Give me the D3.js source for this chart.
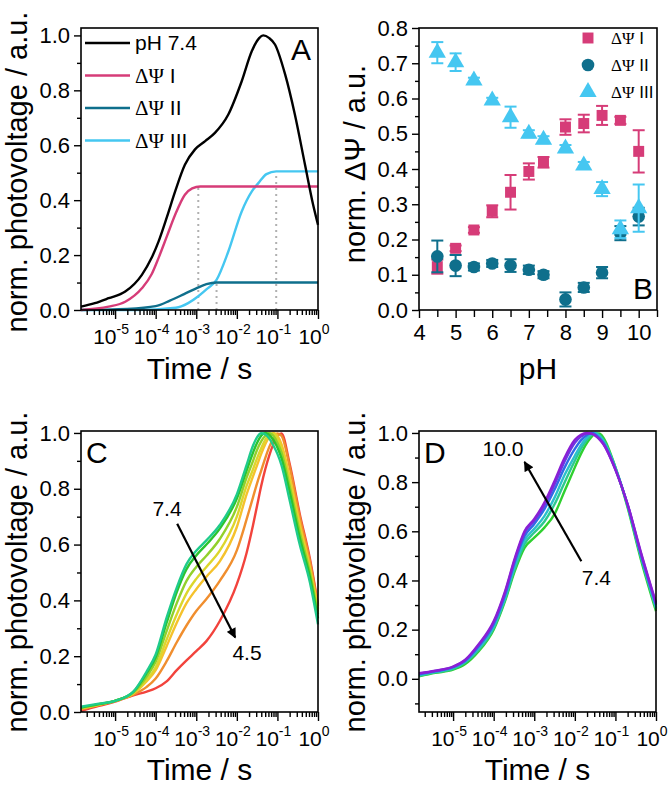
<!DOCTYPE html>
<html lang="en">
<head>
<meta charset="UTF-8">
<title>Photovoltage vs pH</title>
<script src="https://cdn.jsdelivr.net/npm/d3@7"></script>
<style>
  body { margin: 0; background: #fff; }
  svg text { font-family: "Liberation Sans", Arial, Helvetica, sans-serif; fill: #000; }
  .frame { fill: none; stroke: #000; stroke-width: 1.6px; }
  .tick line { stroke: #000; stroke-width: 1.4px; }
</style>
</head>
<body>
<svg id="fig" width="672" height="786"></svg>
<script>
// ---------- panel A : pH 7.4 trace and its three components (time as log10 s) ----------
var logtA_trace = [-5.84, -5.5, -5.16, -4.75, -4.34, -4.1, -3.93, -3.72, -3.52, -3.28, -3.03, -2.78, -2.54, -2.21, -1.88, -1.63, -1.45, -1.35, -1.2, -1.06, -0.81, -0.57, -0.32, -0.12, 0];
var trace74     = [0.012, 0.025, 0.043, 0.067, 0.128, 0.19, 0.249, 0.34, 0.432, 0.529, 0.585, 0.615, 0.645, 0.712, 0.833, 0.943, 0.99, 1.0, 0.99, 0.967, 0.858, 0.712, 0.529, 0.383, 0.31];
var logtA_I  = [-5.84, -5.16, -4.75, -4.34, -4.1, -3.93, -3.72, -3.52, -3.28, -3.1, -2.9, 0];
var psiI     = [0.0, 0.012, 0.03, 0.079, 0.13, 0.189, 0.27, 0.347, 0.42, 0.443, 0.45, 0.45];
var logtA_II = [-5.84, -4.7, -4.0, -3.65, -3.3, -3.0, -2.75, -2.5, 0];
var psiII    = [0.0, 0.004, 0.014, 0.034, 0.058, 0.079, 0.094, 0.1, 0.1];
var logtA_III = [-5.84, -4.5, -3.5, -3.2, -2.95, -2.75, -2.5, -2.21, -1.88, -1.63, -1.47, -1.27, -1.03, 0];
var psiIII    = [0.0, 0.0, 0.008, 0.025, 0.05, 0.075, 0.11, 0.213, 0.359, 0.432, 0.462, 0.495, 0.505, 0.505];
var guideLogT = [-2.95, -2.5, -1.03];   // dotted markers of the three time constants
var guideTop  = [0.45, 0.1, 0.505];

// ---------- panel B : amplitudes vs pH ----------
var pHB      = [4.5, 5, 5.5, 6, 6.5, 7, 7.4, 8, 8.5, 9, 9.5, 10];
var ampI     = [0.123, 0.175, 0.227, 0.28, 0.334, 0.393, 0.419, 0.519, 0.529, 0.552, 0.538, 0.45];
var ampIErr  = [0.02, 0.008, 0.008, 0.017, 0.049, 0.023, 0.015, 0.022, 0.025, 0.027, 0.01, 0.06];
var ampII    = [0.152, 0.126, 0.122, 0.132, 0.126, 0.114, 0.1, 0.03, 0.064, 0.106, 0.218, 0.265];
var ampIIErr = [0.045, 0.03, 0.01, 0.01, 0.018, 0.012, 0.01, 0.02, 0.013, 0.016, 0.02, 0.025];
var ampIII   = [0.73, 0.703, 0.651, 0.594, 0.547, 0.5, 0.483, 0.458, 0.41, 0.343, 0.229, 0.289];
var ampIIIErr= [0.03, 0.025, 0.008, 0.008, 0.03, 0.01, 0.01, 0.01, 0.01, 0.02, 0.025, 0.067];

// ---------- panel C : acidic traces, pH 7.4 -> 4.5 ----------
var logtC = [-5.84, -5.4, -5.0, -4.55, -4.22, -4.0, -3.73, -3.48, -3.24, -3.0, -2.75, -2.42, -2.0, -1.76, -1.6, -1.5, -1.4, -1.3, -1.2, -1.1, -1.0, -0.9, -0.7, -0.45, -0.2, 0];
var c74 = [0.019, 0.03, 0.04, 0.073, 0.146, 0.206, 0.338, 0.446, 0.53, 0.578, 0.615, 0.67, 0.78, 0.885, 0.955, 0.985, 0.999, 0.995, 0.98, 0.955, 0.925, 0.885, 0.76, 0.6, 0.465, 0.314];
var c70 = [0.016, 0.028, 0.04, 0.072, 0.14, 0.196, 0.32, 0.43, 0.512, 0.561, 0.6, 0.657, 0.765, 0.865, 0.93, 0.965, 0.99, 1.0, 0.993, 0.975, 0.948, 0.91, 0.79, 0.625, 0.485, 0.335];
var c65 = [0.015, 0.028, 0.04, 0.07, 0.127, 0.18, 0.29, 0.39, 0.47, 0.52, 0.56, 0.62, 0.735, 0.84, 0.9, 0.94, 0.97, 0.99, 1.0, 0.99, 0.965, 0.93, 0.81, 0.645, 0.5, 0.35];
var c60 = [0.014, 0.027, 0.04, 0.068, 0.115, 0.16, 0.26, 0.35, 0.425, 0.477, 0.52, 0.578, 0.7, 0.81, 0.87, 0.91, 0.945, 0.975, 0.995, 0.997, 0.98, 0.945, 0.83, 0.66, 0.51, 0.36];
var c55 = [0.013, 0.026, 0.04, 0.066, 0.11, 0.15, 0.236, 0.32, 0.39, 0.44, 0.485, 0.54, 0.663, 0.78, 0.845, 0.885, 0.925, 0.96, 0.985, 1.0, 0.99, 0.96, 0.845, 0.675, 0.52, 0.37];
var c50 = [0.01, 0.025, 0.04, 0.062, 0.09, 0.12, 0.182, 0.25, 0.31, 0.362, 0.405, 0.47, 0.579, 0.69, 0.77, 0.82, 0.865, 0.91, 0.95, 0.98, 0.998, 0.99, 0.88, 0.7, 0.54, 0.38];
var c45 = [0.004, 0.022, 0.037, 0.06, 0.073, 0.085, 0.11, 0.15, 0.185, 0.218, 0.254, 0.326, 0.458, 0.57, 0.67, 0.74, 0.81, 0.87, 0.92, 0.96, 0.99, 0.998, 0.89, 0.71, 0.55, 0.385];
var colorsC = ["#f2433c", "#f08e2e", "#f5c22c", "#dcd62c", "#92d02c", "#2cc42e", "#1fcb8c"];

// ---------- panel D : alkaline traces, pH 7.4 -> 10.0 ----------
var logtD = [-5.84, -5.44, -5.0, -4.7, -4.38, -4.0, -3.72, -3.48, -3.24, -3.0, -2.75, -2.5, -2.25, -2.0, -1.85, -1.7, -1.6, -1.5, -1.4, -1.3, -1.0, -0.7, -0.38, 0];
var d74  = [0.01, 0.024, 0.037, 0.06, 0.11, 0.2, 0.316, 0.438, 0.533, 0.574, 0.615, 0.67, 0.765, 0.86, 0.915, 0.96, 0.982, 0.997, 0.998, 0.982, 0.86, 0.697, 0.49, 0.275];
var d80  = [0.012, 0.026, 0.04, 0.066, 0.116, 0.206, 0.322, 0.448, 0.548, 0.595, 0.64, 0.71, 0.8, 0.887, 0.935, 0.972, 0.99, 1.0, 0.992, 0.973, 0.86, 0.703, 0.5, 0.285];
var d85  = [0.015, 0.028, 0.044, 0.07, 0.122, 0.213, 0.33, 0.46, 0.563, 0.61, 0.662, 0.737, 0.83, 0.907, 0.95, 0.982, 0.995, 0.999, 0.988, 0.968, 0.857, 0.705, 0.505, 0.29];
var d90  = [0.018, 0.03, 0.047, 0.073, 0.13, 0.222, 0.34, 0.475, 0.58, 0.63, 0.69, 0.77, 0.86, 0.935, 0.97, 0.992, 1.0, 0.995, 0.98, 0.96, 0.853, 0.708, 0.51, 0.3];
var d95  = [0.021, 0.032, 0.049, 0.076, 0.135, 0.229, 0.35, 0.485, 0.593, 0.643, 0.705, 0.79, 0.885, 0.96, 0.985, 0.998, 0.998, 0.99, 0.977, 0.957, 0.852, 0.71, 0.515, 0.305];
var d100 = [0.023, 0.033, 0.05, 0.078, 0.139, 0.234, 0.356, 0.49, 0.6, 0.65, 0.717, 0.805, 0.9, 0.972, 0.993, 1.0, 0.997, 0.99, 0.975, 0.955, 0.85, 0.71, 0.52, 0.31];
var colorsD = ["#2fd02f", "#2cc98f", "#2cbfcc", "#2f6ce6", "#6a3ae2", "#8a1fd4"];

var cPink = "#d63c78", cTeal = "#0f6f8c", cSky = "#45c7f1";

var svg = d3.select("#fig");
var xDomain = [Math.pow(10, -5.84), 1];

function line(x, y) {
  return d3.line().x(function(d) { return x(Math.pow(10, d[0])); }).y(function(d) { return y(d[1]); }).curve(d3.curveMonotoneX);
}
function pairs(ts, vs) { return ts.map(function(t, i) { return [t, vs[i]]; }); }

function logXAxis(g, x, h) {
  var minor = [];
  for (var e = -6; e < 0; e++) for (var k = 2; k < 10; k++) {
    var v = k * Math.pow(10, e);
    if (v >= xDomain[0] && v <= 1) minor.push(v);
  }
  g.append("g").attr("transform", "translate(0," + h + ")")
    .call(d3.axisBottom(x).tickValues(minor).tickSize(5).tickFormat(""))
    .call(function(s) { s.select(".domain").remove(); });
  var majors = [-5, -4, -3, -2, -1, 0];
  var ax = g.append("g").attr("transform", "translate(0," + h + ")")
    .call(d3.axisBottom(x).tickValues(majors.map(function(e) { return Math.pow(10, e); })).tickSize(9).tickFormat(""));
  ax.select(".domain").remove();
  majors.forEach(function(e) {
    var t = g.append("text").attr("x", x(Math.pow(10, e)) - 4).attr("y", h + 34)
      .attr("text-anchor", "middle").style("font-size", "21px").text("10");
    t.append("tspan").attr("dy", -10).style("font-size", "14px").text(e);
  });
}

function yAxis(g, y, majors, minors, fmt) {
  g.append("g").call(d3.axisLeft(y).tickValues(minors).tickSize(4).tickFormat(""))
    .call(function(s) { s.select(".domain").remove(); });
  g.append("g").call(d3.axisLeft(y).tickValues(majors).tickSize(7).tickFormat(fmt).tickPadding(4))
    .call(function(s) { s.select(".domain").remove(); s.selectAll("text").style("font-size", "22px"); });
}

function frame(g, w, h) {
  g.append("rect").attr("class", "frame").attr("width", w).attr("height", h);
}

function yTitle(g, h, txt, cy) {
  g.append("text").attr("transform", "translate(-54," + cy + ") rotate(-90)")
    .attr("text-anchor", "middle").style("font-size", "29px").text(txt);
}

// ================= panel A =================
(function() {
  var L = 81, T = 28, W = 237, H = 282;
  var g = svg.append("g").attr("transform", "translate(" + L + "," + T + ")");
  var x = d3.scaleLog().domain(xDomain).range([0, W]);
  var y = d3.scaleLinear().domain([0, 1.027]).range([H, 0]);

  g.selectAll("line.guide").data(guideLogT).enter().append("line")
    .attr("x1", function(d) { return x(Math.pow(10, d)); }).attr("x2", function(d) { return x(Math.pow(10, d)); })
    .attr("y1", y(0)).attr("y2", function(d, i) { return y(guideTop[i]); })
    .attr("stroke", "#b0b0b0").attr("stroke-width", 2).attr("stroke-dasharray", "2,4");

  var curves = [[logtA_III, psiIII, cSky], [logtA_II, psiII, cTeal], [logtA_I, psiI, cPink], [logtA_trace, trace74, "#000"]];
  curves.forEach(function(c) {
    g.append("path").datum(pairs(c[0], c[1])).attr("d", line(x, y))
      .attr("fill", "none").attr("stroke", c[2]).attr("stroke-width", 2.4);
  });

  var leg = [["pH 7.4", "#000", ""], ["", cPink, " I"], ["", cTeal, " II"], ["", cSky, " III"]];
  leg.forEach(function(l, i) {
    var ly = 15 + i * 32.5;
    g.append("line").attr("x1", 4).attr("x2", 49).attr("y1", ly).attr("y2", ly)
      .attr("stroke", l[1]).attr("stroke-width", 2.6);
    var t = g.append("text").attr("x", 54).attr("y", ly).attr("dy", "0.35em").style("font-size", "21px");
    if (l[0]) t.text(l[0]);
    else {
      t.append("tspan").style("font-family", "'Liberation Serif', serif").text("ΔΨ");
      t.append("tspan").text(l[2]);
    }
  });
  g.append("text").attr("x", W - 7).attr("y", 32).attr("text-anchor", "end").style("font-size", "30px").text("A");

  logXAxis(g, x, H);
  yAxis(g, y, [0, 0.2, 0.4, 0.6, 0.8, 1.0], [0.1, 0.3, 0.5, 0.7, 0.9], d3.format(".1f"));
  frame(g, W, H);
  yTitle(g, H, "norm. photovoltage / a.u.", 144);
  g.append("text").attr("x", W / 2).attr("y", H + 69).attr("text-anchor", "middle").style("font-size", "30px").text("Time / s");
})();

// ================= panel B =================
(function() {
  var L = 419, T = 28, W = 238, H = 282;
  var g = svg.append("g").attr("transform", "translate(" + L + "," + T + ")");
  var x = d3.scaleLinear().domain([4, 10.5]).range([0, W]);
  var y = d3.scaleLinear().domain([0, 0.8]).range([H, 0]);

  var series = [[ampI, ampIErr, cPink, d3.symbolSquare, 120], [ampII, ampIIErr, cTeal, d3.symbolCircle, 125], [ampIII, ampIIIErr, cSky, d3.symbolTriangle, 130]];
  series.forEach(function(s) {
    var eg = g.append("g").attr("stroke", s[2]).attr("stroke-width", 2);
    pHB.forEach(function(p, i) {
      var cx = x(p), lo = y(s[0][i] - s[1][i]), hi = y(s[0][i] + s[1][i]);
      eg.append("line").attr("x1", cx).attr("x2", cx).attr("y1", lo).attr("y2", hi);
      eg.append("line").attr("x1", cx - 6).attr("x2", cx + 6).attr("y1", lo).attr("y2", lo);
      eg.append("line").attr("x1", cx - 6).attr("x2", cx + 6).attr("y1", hi).attr("y2", hi);
    });
    g.append("g").selectAll("path").data(pHB).enter().append("path")
      .attr("d", d3.symbol().type(s[3]).size(s[4]))
      .attr("transform", function(p, i) { return "translate(" + x(p) + "," + y(s[0][i]) + ")"; })
      .attr("fill", s[2]);
  });

  ["I", "II", "III"].forEach(function(n, i) {
    var s = series[i], ly = 10 + i * 27;
    g.append("path").attr("d", d3.symbol().type(s[3]).size(s[4]))
      .attr("transform", "translate(169," + ly + ")").attr("fill", s[2]);
    var t = g.append("text").attr("x", 192).attr("y", ly).attr("dy", "0.35em").style("font-size", "17px");
    t.append("tspan").style("font-family", "'Liberation Serif', serif").text("ΔΨ");
    t.append("tspan").text(" " + n);
  });
  g.append("text").attr("x", W - 4).attr("y", H - 11).attr("text-anchor", "end").style("font-size", "30px").text("B");

  var bx = g.append("g").attr("transform", "translate(0," + H + ")");
  bx.call(d3.axisBottom(x).tickValues(d3.range(4.5, 10.6, 1)).tickSize(7).tickFormat(""))
    .call(function(s) { s.select(".domain").remove(); });
  bx.append("g").call(d3.axisBottom(x).tickValues(d3.range(4, 10.1, 1)).tickSize(8).tickPadding(6).tickFormat(d3.format("d")))
    .call(function(s) { s.select(".domain").remove(); s.selectAll("text").style("font-size", "22px"); });
  yAxis(g, y, d3.range(0, 0.81, 0.1), d3.range(0.05, 0.8, 0.1), d3.format(".1f"));
  frame(g, W, H);
  yTitle(g, H, "norm. ΔΨ / a.u.", 136);
  g.append("text").attr("x", W / 2).attr("y", H + 69).attr("text-anchor", "middle").style("font-size", "30px").text("pH");
})();

// arrow marker
svg.append("defs").append("marker").attr("id", "head").attr("viewBox", "0 0 10 10")
  .attr("refX", 9).attr("refY", 5).attr("markerWidth", 5).attr("markerHeight", 4.5)
  .attr("orient", "auto").append("path").attr("d", "M0,0L10,5L0,10z").attr("fill", "#000");

function tracePanel(L, yDom, yMajors, yMinors, series, colors, letter, arrow) {
  var T = 431, W = 237, H = 281;
  var g = svg.append("g").attr("transform", "translate(" + L + "," + T + ")");
  var x = d3.scaleLog().domain(xDomain).range([0, W]);
  var y = d3.scaleLinear().domain(yDom).range([H, 0]);
  series.forEach(function(s, i) {
    g.append("path").datum(pairs(s[0], s[1])).attr("d", line(x, y))
      .attr("fill", "none").attr("stroke", colors[i]).attr("stroke-width", 2.4);
  });
  g.append("line")
    .attr("x1", x(Math.pow(10, arrow.from[0]))).attr("y1", y(arrow.from[1]))
    .attr("x2", x(Math.pow(10, arrow.to[0]))).attr("y2", y(arrow.to[1]))
    .attr("stroke", "#000").attr("stroke-width", 2.2).attr("marker-end", "url(#head)");
  arrow.labels.forEach(function(l) {
    g.append("text").attr("x", x(Math.pow(10, l[0]))).attr("y", y(l[1])).attr("dy", "0.35em")
      .attr("text-anchor", "middle").style("font-size", "21px").text(l[2]);
  });
  g.append("text").attr("x", 5).attr("y", 32).style("font-size", "30px").text(letter);
  logXAxis(g, x, H);
  yAxis(g, y, yMajors, yMinors, d3.format(".1f"));
  frame(g, W, H);
  yTitle(g, H, "norm. photovoltage / a.u.", 141);
  g.append("text").attr("x", W / 2).attr("y", H + 68).attr("text-anchor", "middle").style("font-size", "30px").text("Time / s");
}

tracePanel(81, [0, 1.007], [0, 0.2, 0.4, 0.6, 0.8, 1.0], [0.1, 0.3, 0.5, 0.7, 0.9],
  [[logtC, c45], [logtC, c50], [logtC, c55], [logtC, c60], [logtC, c65], [logtC, c70], [logtC, c74]],
  colorsC, "C",
  { from: [-3.47, 0.675], to: [-2.04, 0.267], labels: [[-3.72, 0.73, "7.4"], [-1.75, 0.213, "4.5"]] });

tracePanel(419, [-0.135, 1.008], [0, 0.2, 0.4, 0.6, 0.8, 1.0], [-0.1, 0.1, 0.3, 0.5, 0.7, 0.9],
  [[logtD, d74], [logtD, d80], [logtD, d85], [logtD, d90], [logtD, d95], [logtD, d100]],
  colorsD, "D",
  { from: [-1.84, 0.478], to: [-3.24, 0.882], labels: [[-3.77, 0.935, "10.0"], [-1.47, 0.412, "7.4"]] });
</script>
</body>
</html>
